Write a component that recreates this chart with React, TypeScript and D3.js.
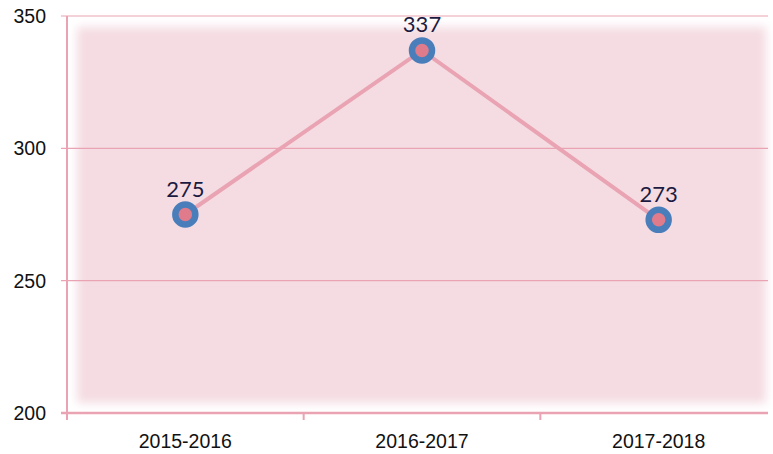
import React from "react";
import * as d3 from "d3";

const categories = ["2015-2016", "2016-2017", "2017-2018"];
const values = [275, 337, 273];
const yTicks = [200, 250, 300, 350];

export default function App() {
  const W = 773, H = 454;
  const left = 67, right = 768, top = 16, bottom = 413;
  const x = d3.scaleBand<string>().domain(categories).range([left, 777]);
  const y = d3.scaleLinear().domain([200, 350]).range([bottom, top]);
  const line = d3
    .line<number>()
    .x((_, i) => (x(categories[i]) as number) + x.bandwidth() / 2)
    .y((d) => y(d));
  const pink = "#e9a3b2";
  const bandEdges = categories.map((c) => x(c) as number);
  return (
    <svg
      width={W}
      height={H}
      style={{ position: "absolute", left: 0, top: 0 }}
      fontFamily="'Liberation Sans', Arial, sans-serif"
    >
      <defs>
        <filter id="blur" x="-5%" y="-5%" width="110%" height="110%">
          <feGaussianBlur stdDeviation="5" />
        </filter>
      </defs>
      <rect x={0} y={0} width={W} height={H} fill="#fff" />
      <rect
        x={left + 10}
        y={top + 11}
        width={right - left - 12}
        height={bottom - top - 21}
        fill="#f4dce2"
        filter="url(#blur)"
      />
      {yTicks.map((t) => (
        <g key={t}>
          <line x1={left - 6} x2={right} y1={y(t)} y2={y(t)} stroke={pink} strokeWidth={t === 200 ? 2.5 : 1.2} />
          <text x={46} y={y(t) + 7} textAnchor="end" fontSize={19.5} fill="#111">
            {t}
          </text>
        </g>
      ))}
      <line x1={left} x2={left} y1={top} y2={bottom + 7} stroke={pink} strokeWidth={2} />
      {bandEdges.map((bx, i) => (
        <line key={i} x1={bx} x2={bx} y1={bottom} y2={bottom + 7} stroke={pink} strokeWidth={2} />
      ))}
      {categories.map((c) => (
        <text
          key={c}
          x={(x(c) as number) + x.bandwidth() / 2}
          y={448}
          textAnchor="middle"
          fontSize={19.5}
          fill="#111"
        >
          {c}
        </text>
      ))}
      <path d={line(values) || ""} fill="none" stroke={pink} strokeWidth={4} strokeLinecap="round" />
      {values.map((v, i) => {
        const cx = (x(categories[i]) as number) + x.bandwidth() / 2;
        const cy = y(v);
        return (
          <g key={i}>
            <circle cx={cx} cy={cy} r={10} fill="#e07b8b" stroke="#4a7ebb" strokeWidth={6.5} />
            <text
              x={cx}
              y={cy - 18}
              textAnchor="middle"
              fontSize={22}
              fill="#1c1a40"
              fontFamily="Lato, sans-serif"
            >
              {v}
            </text>
          </g>
        );
      })}
    </svg>
  );
}
